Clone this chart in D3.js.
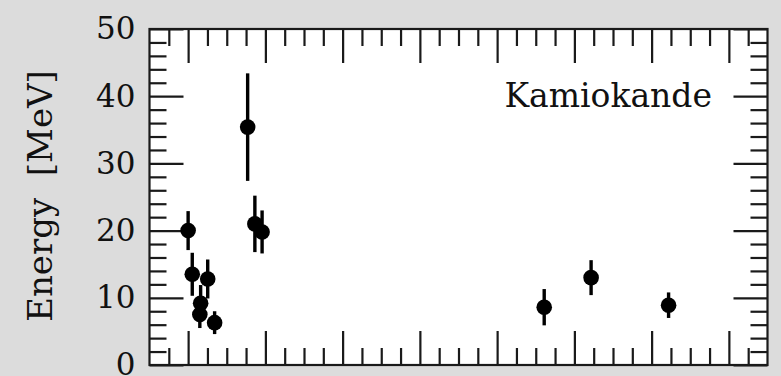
<!DOCTYPE html>
<html>
<head>
<meta charset="utf-8">
<script src="https://cdn.jsdelivr.net/npm/d3@7"></script>
<style>
  html, body { margin: 0; padding: 0; background: #dcdcdc; }
  svg { display: block; }
  text { font-family: "DejaVu Serif", "Liberation Serif", serif; fill: #111; }
</style>
</head>
<body>
<svg id="chart" width="781" height="376"></svg>
<script>
// Kamiokande-II events: relative time [s], energy [MeV], energy uncertainty [MeV]
const eventTimes    = [0.000, 0.107, 0.303, 0.324, 0.507, 0.686, 1.541, 1.728, 1.915, 9.219, 10.433, 12.439];
const eventEnergies = [20.0, 13.5, 7.5, 9.2, 12.8, 6.3, 35.4, 21.0, 19.8, 8.6, 13.0, 8.9];
const eventErrors   = [2.9, 3.2, 2.0, 2.7, 2.9, 1.7, 8.0, 4.2, 3.2, 2.7, 2.6, 1.9];

const yTickLabels   = [0, 10, 20, 30, 40, 50];
const yMinorTicks   = [2, 4, 6, 8, 12, 14, 16, 18, 22, 24, 26, 28, 32, 34, 36, 38, 42, 44, 46, 48];
const xMajorTicks   = [0, 2, 4, 6, 8, 10, 12, 14];
const xMinorTicks   = [-0.5, 0.5, 1, 1.5, 2.5, 3, 3.5, 4.5, 5, 5.5, 6.5, 7, 7.5, 8.5, 9, 9.5,
                       10.5, 11, 11.5, 12.5, 13, 13.5, 14.5];

const detectorName = "Kamiokande";
const yTitle = "Energy  [MeV]";

const svg = d3.select("#chart");
const plot = { left: 149.5, right: 767.5, top: 29, bottom: 365 };

const x = d3.scaleLinear().domain([-1, 15]).range([plot.left, plot.right]);
const y = d3.scaleLinear().domain([0, 50]).range([plot.bottom, plot.top]);

// plotting area
svg.append("rect")
  .attr("x", plot.left).attr("y", plot.top)
  .attr("width", plot.right - plot.left).attr("height", plot.bottom - plot.top)
  .attr("fill", "#fff");

const majorLen = 34, minorLen = 17;

function styleAxis(g) {
  g.select(".domain").remove();
  g.selectAll(".tick line").attr("stroke", "#1a1a1a").attr("stroke-width", 2.2);
}

// x ticks, bottom and top (drawn inward)
svg.append("g").attr("transform", `translate(0,${plot.bottom})`)
  .call(d3.axisBottom(x).tickValues(xMajorTicks).tickSize(-majorLen).tickFormat(""))
  .call(styleAxis);
svg.append("g").attr("transform", `translate(0,${plot.bottom})`)
  .call(d3.axisBottom(x).tickValues(xMinorTicks).tickSize(-minorLen).tickFormat(""))
  .call(styleAxis);
svg.append("g").attr("transform", `translate(0,${plot.top})`)
  .call(d3.axisTop(x).tickValues(xMajorTicks).tickSize(-majorLen).tickFormat(""))
  .call(styleAxis);
svg.append("g").attr("transform", `translate(0,${plot.top})`)
  .call(d3.axisTop(x).tickValues(xMinorTicks).tickSize(-minorLen).tickFormat(""))
  .call(styleAxis);

// y ticks, left with labels and right mirrored
const yLeft = svg.append("g").attr("transform", `translate(${plot.left},0)`)
  .call(d3.axisLeft(y).tickValues(yTickLabels).tickSize(-majorLen).tickPadding(14).tickFormat(d3.format("d")))
  .call(styleAxis);
yLeft.selectAll(".tick text")
  .attr("font-family", "DejaVu Serif, Liberation Serif, serif")
  .attr("font-size", 31).attr("fill", "#111");
svg.append("g").attr("transform", `translate(${plot.left},0)`)
  .call(d3.axisLeft(y).tickValues(yMinorTicks).tickSize(-minorLen).tickFormat(""))
  .call(styleAxis);
svg.append("g").attr("transform", `translate(${plot.right},0)`)
  .call(d3.axisRight(y).tickValues(yTickLabels).tickSize(-majorLen).tickFormat(""))
  .call(styleAxis);
svg.append("g").attr("transform", `translate(${plot.right},0)`)
  .call(d3.axisRight(y).tickValues(yMinorTicks).tickSize(-minorLen).tickFormat(""))
  .call(styleAxis);

// frame
svg.append("rect")
  .attr("x", plot.left).attr("y", plot.top)
  .attr("width", plot.right - plot.left).attr("height", plot.bottom - plot.top)
  .attr("fill", "none").attr("stroke", "#1a1a1a").attr("stroke-width", 2.2);

// events
const events = eventTimes.map((t, i) => ({ t, e: eventEnergies[i], err: eventErrors[i] }));

svg.append("g").selectAll("line").data(events).join("line")
  .attr("x1", d => x(d.t)).attr("x2", d => x(d.t))
  .attr("y1", d => y(d.e - d.err)).attr("y2", d => y(d.e + d.err))
  .attr("stroke", "#000").attr("stroke-width", 3.4);

svg.append("g").selectAll("circle").data(events).join("circle")
  .attr("cx", d => x(d.t)).attr("cy", d => y(d.e))
  .attr("r", 7.8).attr("fill", "#000");

// detector label
svg.append("text")
  .attr("x", 712).attr("y", 107)
  .attr("text-anchor", "end")
  .attr("font-size", 33)
  .text(detectorName);

// y title
svg.append("text")
  .attr("transform", `translate(52,${(72 + 320) / 2}) rotate(-90)`)
  .attr("text-anchor", "middle")
  .attr("font-size", 34)
  .attr("xml:space", "preserve")
  .style("white-space", "pre")
  .text(yTitle);
</script>
</body>
</html>
